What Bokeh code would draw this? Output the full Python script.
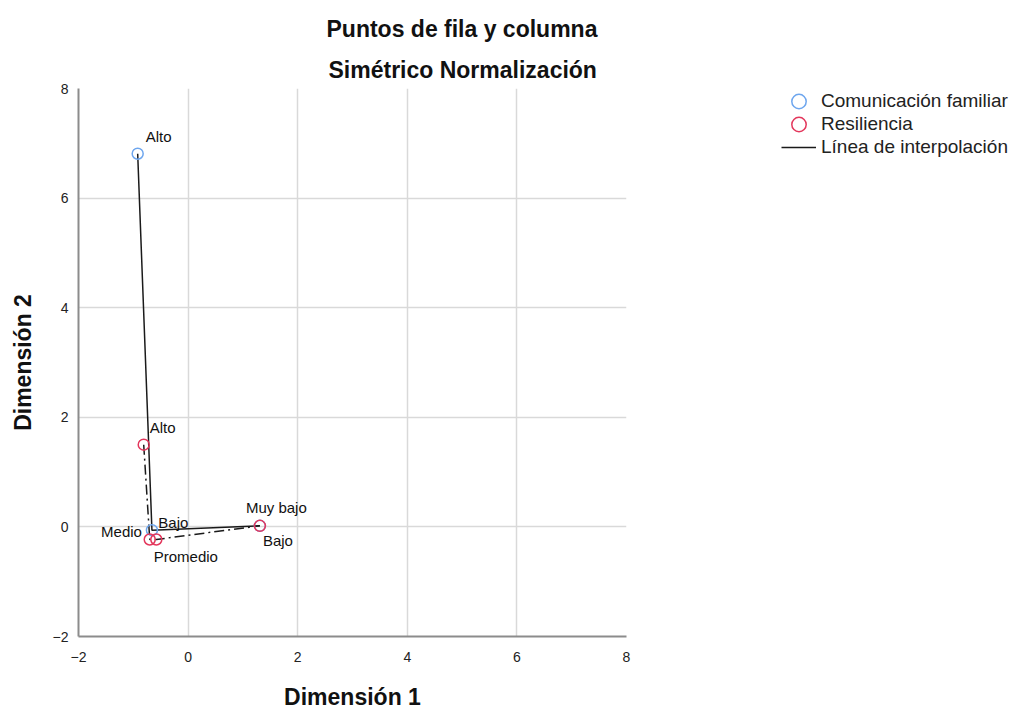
from bokeh.plotting import figure
from bokeh.models import Range1d, Label, Legend, LegendItem, FixedTicker, Title
from bokeh.embed import file_html
from bokeh.resources import INLINE

# Comunicación familiar (row points)
cf_labels = ["Alto", "Medio", "Bajo"]
cf_x = [-0.92, -0.66, 1.31]
cf_y = [6.81, -0.06, 0.02]

# Resiliencia (column points)
res_labels = ["Alto", "Promedio", "Bajo", "Muy bajo"]
res_x = [-0.81, -0.70, -0.58, 1.31]
res_y = [1.50, -0.23, -0.23, 0.02]

ticks = [-2, 0, 2, 4, 6, 8]

FONT = "Liberation Sans"
BLUE = "#6ea6ee"
RED = "#e3375c"

p = figure(frame_width=548, frame_height=548,
           min_border_left=78, min_border_top=88, min_border_right=377, min_border_bottom=71,
           x_range=Range1d(-2, 8), y_range=Range1d(-2, 8),
           output_backend="svg", toolbar_location=None, tools="")
p.outline_line_color = None
p.background_fill_color = "white"
p.border_fill_color = "white"

for ax in (p.xaxis[0], p.yaxis[0]):
    ax.ticker = FixedTicker(ticks=ticks)
    ax.major_tick_out = 0
    ax.major_tick_in = 0
    ax.minor_tick_out = 0
    ax.minor_tick_in = 0
    ax.axis_line_color = "#8c8c8c"
    ax.axis_line_width = 2
    ax.major_label_text_font = FONT
    ax.major_label_text_font_size = "14px"
    ax.major_label_text_color = "#222222"
    ax.axis_label_text_font = FONT
    ax.axis_label_text_font_style = "bold"
    ax.axis_label_text_font_size = "23px"
    ax.axis_label_text_color = "#111111"

p.xaxis.axis_label = "Dimensión 1"
p.yaxis.axis_label = "Dimensión 2"
p.xaxis.major_label_standoff = 15
p.yaxis.major_label_standoff = 10
p.xaxis.axis_label_standoff = 19
p.yaxis.axis_label_standoff = 14

p.xgrid.ticker = FixedTicker(ticks=ticks)
p.ygrid.ticker = FixedTicker(ticks=ticks)
p.xgrid.grid_line_color = "#d9d9d9"
p.ygrid.grid_line_color = "#d9d9d9"
p.xgrid.grid_line_width = 1.5
p.ygrid.grid_line_width = 1.5

# interpolation lines
l_cf = p.line(cf_x, cf_y, line_color="#1a1a1a", line_width=1.5)
p.line(res_x, res_y, line_color="#1a1a1a", line_width=1.5, line_dash="10 4 2 4")

# point markers: screen-sized circles (ellipse glyph gives a full-size legend marker)
r_cf = p.ellipse(cf_x, cf_y, width=11, height=11, width_units="screen",
                 height_units="screen", fill_color=None, line_color=BLUE, line_width=1.5)
r_res = p.ellipse(res_x, res_y, width=11, height=11, width_units="screen",
                  height_units="screen", fill_color=None, line_color=RED, line_width=1.5)

# point labels (offsets in screen pixels, dy downward)
cf_off = [(8, -17, "left"), (-10, 1, "right"), (3, 15, "left")]
res_off = [(6, -17, "left"), (4, 17, "left"), (2, -17, "left"), (-14, -18, "left")]
for lab, x, y, (dx, dy, al) in zip(cf_labels, cf_x, cf_y, cf_off):
    p.add_layout(Label(x=x, y=y, x_offset=dx, y_offset=-dy, text=lab, text_align=al,
                       text_baseline="middle", text_font=FONT, text_font_size="15px",
                       text_color="#111111"))
for lab, x, y, (dx, dy, al) in zip(res_labels, res_x, res_y, res_off):
    p.add_layout(Label(x=x, y=y, x_offset=dx, y_offset=-dy, text=lab, text_align=al,
                       text_baseline="middle", text_font=FONT, text_font_size="15px",
                       text_color="#111111"))

# titles (first added sits closest to the plot)
p.add_layout(Title(text="Simétrico Normalización", align="left", offset=250,
                   text_font=FONT, text_font_style="bold", text_font_size="23px",
                   text_color="#111111", standoff=12), "above")
p.add_layout(Title(text="Puntos de fila y columna", align="left", offset=248,
                   text_font=FONT, text_font_style="bold", text_font_size="23px",
                   text_color="#111111", standoff=14), "above")

legend = Legend(items=[
    LegendItem(label="Comunicación familiar", renderers=[r_cf]),
    LegendItem(label="Resiliencia", renderers=[r_res]),
    LegendItem(label="Línea de interpolación", renderers=[l_cf]),
], location=(155, 478), padding=0, margin=0, spacing=1, label_height=20,
   glyph_height=18, glyph_width=35, label_standoff=5,
   border_line_color=None, background_fill_alpha=0,
   label_text_font=FONT, label_text_font_size="19px", label_text_color="#222222")
p.add_layout(legend, "right")

open("out.html", "w").write(file_html(p, INLINE))
